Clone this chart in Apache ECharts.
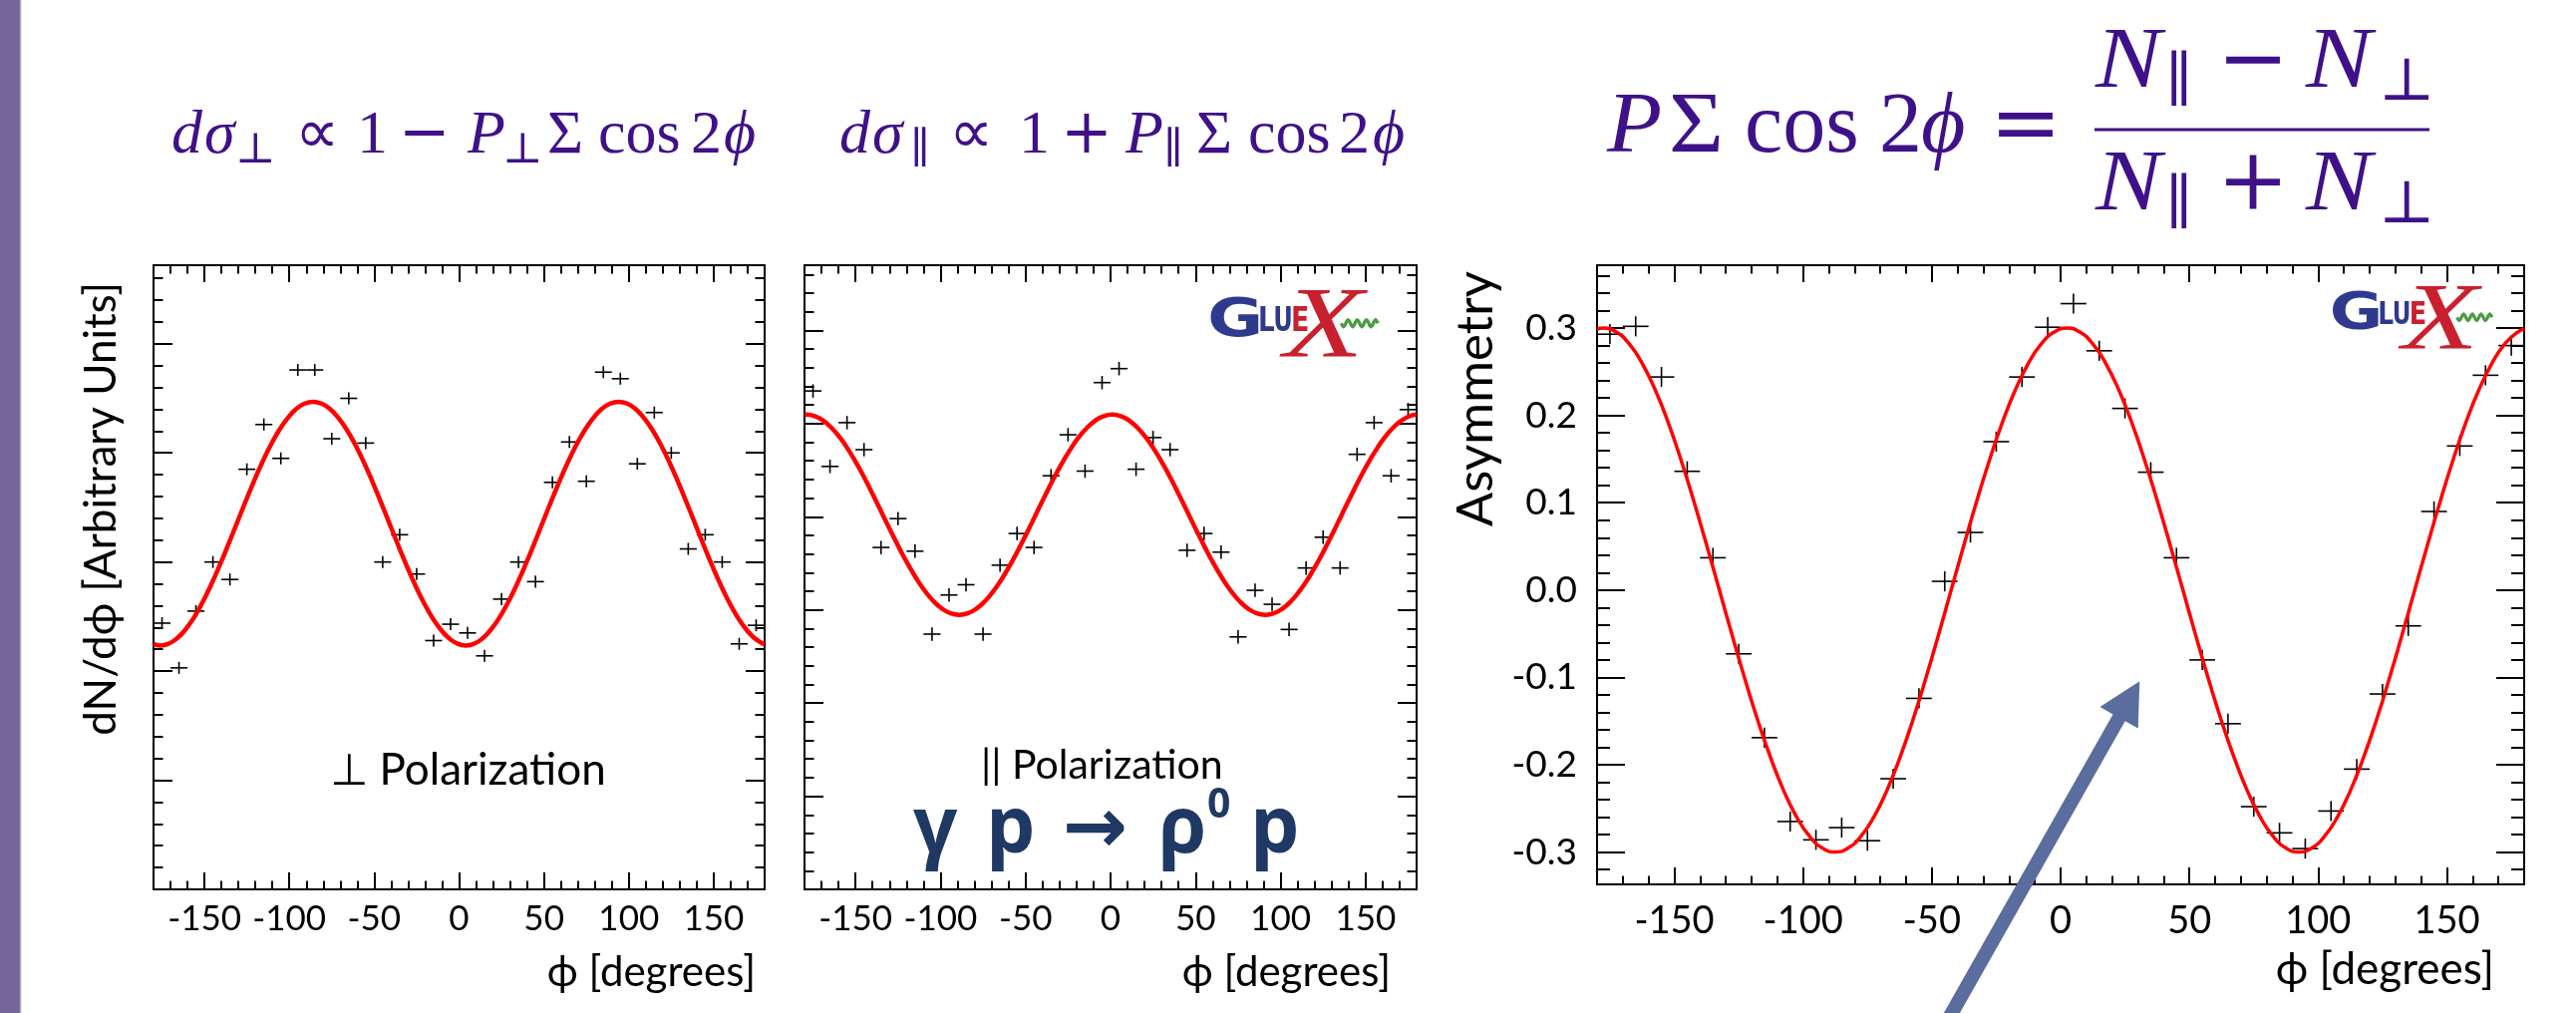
<!DOCTYPE html>
<html>
<head>
<meta charset="utf-8">
<title>ρ⁰ photoproduction beam asymmetry</title>
<script src="https://cdn.jsdelivr.net/npm/echarts@6/dist/echarts.min.js"></script>
<style>
  html, body { margin: 0; padding: 0; background: #ffffff; }
  #chart { width: 2584px; height: 1016px; }
</style>
</head>
<body>
<div id="chart"></div>
<script>
// ---- measured values ----------------------------------------------------
// φ bin centres (degrees) of the measured points
const phiBins = [-175, -165, -155, -145, -135, -125, -115, -105, -95, -85, -75, -65,
                 -55, -45, -35, -25, -15, -5, 5, 15, 25, 35, 45, 55,
                 65, 75, 85, 95, 105, 115, 125, 135, 145, 155, 165, 175];

// ⊥ polarization yield, dN/dφ (arbitrary units)
const perpYield = [2.44, 2.03, 2.55, 3.00, 2.84, 3.85, 4.26, 3.95, 4.76, 4.76, 4.13, 4.50,
                   4.09, 3.00, 3.25, 2.89, 2.28, 2.43, 2.35, 2.14, 2.66, 3.00, 2.82, 3.73,
                   4.10, 3.74, 4.74, 4.68, 3.90, 4.37, 4.00, 3.12, 3.25, 3.00, 2.25, 2.42];
// fitted curve samples for the ⊥ pad (φ in degrees, dN/dφ)
const perpFitPhi = [-180, -176, -171, -166, -161, -156, -151, -146, -141, -136, -131, -126,
                    -121, -116, -111, -106, -101, -96, -91, -86, -81, -76, -71, -66,
                    -61, -56, -51, -46, -41, -36, -31, -26, -21, -16, -11, -6,
                    -1, 4, 9, 14, 19, 24, 29, 34, 39, 44, 49, 54,
                    59, 64, 69, 74, 79, 84, 89, 94, 99, 104, 109, 114,
                    119, 124, 129, 134, 139, 144, 149, 154, 159, 164, 169, 174, 179, 180];
const perpFit = [2.246,
                 2.235, 2.252, 2.302, 2.385, 2.496, 2.634, 2.794, 2.970, 3.158, 3.352, 3.546, 3.734,
                 3.911, 4.070, 4.208, 4.319, 4.402, 4.452, 4.469, 4.452, 4.402, 4.319, 4.208, 4.070,
                 3.911, 3.734, 3.546, 3.352, 3.158, 2.970, 2.794, 2.634, 2.496, 2.385, 2.302, 2.252,
                 2.235, 2.252, 2.302, 2.385, 2.496, 2.634, 2.794, 2.970, 3.158, 3.352, 3.546, 3.734,
                 3.911, 4.070, 4.208, 4.319, 4.402, 4.452, 4.469, 4.452, 4.402, 4.319, 4.208, 4.070,
                 3.911, 3.734, 3.546, 3.352, 3.158, 2.970, 2.794, 2.634, 2.496, 2.385, 2.302, 2.252,
                 2.246];
const perpErr = 0.055;

// ∥ polarization yield, dN/dφ (arbitrary units)
const paraYield = [5.35, 4.54, 5.01, 4.72, 3.67, 3.98, 3.63, 2.74, 3.16, 3.27, 2.74, 3.48,
                   3.82, 3.67, 4.44, 4.88, 4.49, 5.44, 5.59, 4.51, 4.85, 4.72, 3.64, 3.82,
                   3.62, 2.71, 3.21, 3.06, 2.79, 3.45, 3.78, 3.45, 4.67, 5.01, 4.44, 5.15];
const paraFitPhi = [-180, -179, -174, -169, -164, -159, -154, -149, -144, -139, -134, -129, -124,
                    -119, -114, -109, -104, -99, -94, -89, -84, -79, -74, -69, -64,
                    -59, -54, -49, -44, -39, -34, -29, -24, -19, -14, -9, -4,
                    1, 6, 11, 16, 21, 26, 31, 36, 41, 46, 51, 56,
                    61, 66, 71, 76, 81, 86, 91, 96, 101, 106, 111, 116,
                    121, 126, 131, 136, 141, 146, 151, 156, 161, 166, 171, 176, 180];
const paraFit = [5.096,
                 5.097, 5.081, 5.032, 4.953, 4.846, 4.713, 4.560, 4.390, 4.209, 4.022, 3.835, 3.654,
                 3.485, 3.331, 3.199, 3.091, 3.012, 2.963, 2.947, 2.963, 3.012, 3.091, 3.199, 3.331,
                 3.485, 3.654, 3.835, 4.022, 4.209, 4.390, 4.560, 4.713, 4.846, 4.953, 5.032, 5.081,
                 5.097, 5.081, 5.032, 4.953, 4.846, 4.713, 4.560, 4.390, 4.209, 4.022, 3.835, 3.654,
                 3.485, 3.331, 3.199, 3.091, 3.012, 2.963, 2.947, 2.963, 3.012, 3.091, 3.199, 3.331,
                 3.485, 3.654, 3.835, 4.022, 4.209, 4.390, 4.560, 4.713, 4.846, 4.953, 5.032, 5.081,
                 5.096];
const paraErr = 0.072;

// asymmetry (N∥ − N⊥)/(N∥ + N⊥)
const asymValues = [0.293, 0.302, 0.244, 0.136, 0.037, -0.073, -0.169, -0.265, -0.286, -0.272, -0.287, -0.216,
                    -0.124, 0.010, 0.066, 0.170, 0.244, 0.301, 0.328, 0.274, 0.208, 0.135, 0.037, -0.080,
                    -0.153, -0.248, -0.278, -0.296, -0.253, -0.205, -0.119, -0.041, 0.090, 0.165, 0.246, 0.280];
const asymFitPhi = [-180, -177.5, -172.5, -167.5, -162.5, -157.5, -152.5, -147.5, -142.5, -137.5, -132.5, -127.5, -122.5,
                    -117.5, -112.5, -107.5, -102.5, -97.5, -92.5, -87.5, -82.5, -77.5, -72.5, -67.5, -62.5,
                    -57.5, -52.5, -47.5, -42.5, -37.5, -32.5, -27.5, -22.5, -17.5, -12.5, -7.5, -2.5,
                    2.5, 7.5, 12.5, 17.5, 22.5, 27.5, 32.5, 37.5, 42.5, 47.5, 52.5, 57.5,
                    62.5, 67.5, 72.5, 77.5, 82.5, 87.5, 92.5, 97.5, 102.5, 107.5, 112.5, 117.5,
                    122.5, 127.5, 132.5, 137.5, 142.5, 147.5, 152.5, 157.5, 162.5, 167.5, 172.5, 177.5, 180];
const asymFit = [0.2989,
                 0.3000, 0.2954, 0.2819, 0.2598, 0.2298, 0.1928, 0.1500, 0.1026, 0.0521, 0.0000, -0.0521, -0.1026,
                 -0.1500, -0.1928, -0.2298, -0.2598, -0.2819, -0.2954, -0.3000, -0.2954, -0.2819, -0.2598, -0.2298, -0.1928,
                 -0.1500, -0.1026, -0.0521, 0.0000, 0.0521, 0.1026, 0.1500, 0.1928, 0.2298, 0.2598, 0.2819, 0.2954,
                 0.3000, 0.2954, 0.2819, 0.2598, 0.2298, 0.1928, 0.1500, 0.1026, 0.0521, 0.0000, -0.0521, -0.1026,
                 -0.1500, -0.1928, -0.2298, -0.2598, -0.2819, -0.2954, -0.3000, -0.2954, -0.2819, -0.2598, -0.2298, -0.1928,
                 -0.1500, -0.1026, -0.0521, 0.0000, 0.0521, 0.1026, 0.1500, 0.1928, 0.2298, 0.2598, 0.2819, 0.2954,
                 0.2989];
const asymErr = 0.0115;

// tick marks
const phiTicks = [-150, -100, -50, 0, 50, 100, 150];
const perpTicks = [0, 1, 2, 3, 4, 5];
const paraTicks = [0, 1, 2, 3, 4, 5, 6];
const asymTicks = [-0.3, -0.2, -0.1, 0, 0.1, 0.2, 0.3];

// ---- helpers ------------------------------------------------------------
function range(a, b, step) {
  const out = [];
  for (let v = a; v <= b + 1e-9; v += step) out.push(+v.toFixed(4));
  return out;
}
const phiMinor = range(-170, 170, 10);

const BLACK = '#000000';
const lineStyle = { color: BLACK, width: 2 };
const tick = (vals, len) => ({ show: true, inside: true, length: len, customValues: vals, lineStyle });

// four x axes per pad: bottom (labels) + bottom minor + top + top minor
function xAxesFor(g, o) {
  const base = { gridIndex: g, type: 'value', min: -180, max: 180, splitLine: { show: false } };
  return [
    Object.assign({}, base, {
      position: 'bottom',
      axisLine: { show: true, onZero: false, lineStyle },
      axisTick: tick(phiTicks, o.major),
      axisLabel: { show: true, customValues: phiTicks, margin: o.margin, fontFamily: 'Lato',
                   fontSize: o.fs, color: BLACK },
      name: 'ϕ [degrees]', nameLocation: 'end', nameGap: o.nameGap, nameMoveOverlap: false,
      nameTextStyle: { fontFamily: 'Lato', fontSize: o.nameFs, lineHeight: o.nameFs, color: BLACK,
                       align: 'right', verticalAlign: 'top', padding: [o.namePad, 0, 0, 0] }
    }),
    Object.assign({}, base, { position: 'bottom', axisLine: { show: false, onZero: false },
      axisTick: tick(phiMinor, o.minor), axisLabel: { show: false } }),
    Object.assign({}, base, { position: 'top', axisLine: { show: true, onZero: false, lineStyle },
      axisTick: tick(phiTicks, o.major), axisLabel: { show: false } }),
    Object.assign({}, base, { position: 'top', axisLine: { show: false, onZero: false },
      axisTick: tick(phiMinor, o.minor), axisLabel: { show: false } })
  ];
}

// four y axes per pad: left (labels/title) + left minor + right + right minor
function yAxesFor(g, o) {
  const base = { gridIndex: g, type: 'value', min: o.min, max: o.max, splitLine: { show: false } };
  const left = Object.assign({}, base, {
    position: 'left',
    axisLine: { show: true, onZero: false, lineStyle },
    axisTick: tick(o.ticks, o.major),
    axisLabel: o.labels
      ? { show: true, customValues: o.ticks, margin: o.margin, fontFamily: 'Lato', fontSize: o.fs,
          color: BLACK, formatter: v => v.toFixed(1) }
      : { show: false }
  });
  if (o.name) {
    Object.assign(left, {
      name: o.name, nameLocation: 'end', nameRotate: 90, nameGap: o.nameGap, nameMoveOverlap: false,
      nameTextStyle: { fontFamily: 'Lato', fontSize: o.nameFs, lineHeight: o.nameFs, color: BLACK,
                       align: 'right', verticalAlign: 'bottom', padding: [0, 0, o.namePad, 0] }
    });
  }
  return [
    left,
    Object.assign({}, base, { position: 'left', axisLine: { show: false, onZero: false },
      axisTick: tick(o.minorTicks, o.minor), axisLabel: { show: false } }),
    Object.assign({}, base, { position: 'right', axisLine: { show: true, onZero: false, lineStyle },
      axisTick: tick(o.ticks, o.major), axisLabel: { show: false } }),
    Object.assign({}, base, { position: 'right', axisLine: { show: false, onZero: false },
      axisTick: tick(o.minorTicks, o.minor), axisLabel: { show: false } })
  ];
}

// data points drawn as ROOT-style crosses: bin half-width horizontally, error vertically
function crossRenderer(halfBin, err, lw) {
  return function (params, api) {
    const x = api.value(0), y = api.value(1);
    const l = api.coord([x - halfBin, y]), r = api.coord([x + halfBin, y]);
    const t = api.coord([x, y + err]), b = api.coord([x, y - err]);
    const st = { stroke: BLACK, lineWidth: lw };
    return {
      type: 'group',
      children: [
        { type: 'line', shape: { x1: l[0], y1: l[1], x2: r[0], y2: r[1] }, style: st },
        { type: 'line', shape: { x1: t[0], y1: t[1], x2: b[0], y2: b[1] }, style: st }
      ]
    };
  };
}

function pointsSeries(axisIdx, values, err, lw) {
  return {
    type: 'custom', xAxisIndex: axisIdx, yAxisIndex: axisIdx, clip: true, z: 3, silent: true,
    renderItem: crossRenderer(5, err, lw), encode: { x: 0, y: 1 },
    data: phiBins.map((p, i) => [p, values[i]])
  };
}
function fitSeries(axisIdx, phis, values, width) {
  return {
    type: 'line', xAxisIndex: axisIdx, yAxisIndex: axisIdx, smooth: true, symbol: 'none',
    showSymbol: false, silent: true, z: 4, clip: true,
    lineStyle: { color: '#ff0000', width },
    data: phis.map((p, i) => [p, values[i]])
  };
}

// text placement on an alphabetic baseline
const mctx = document.createElement('canvas').getContext('2d');
function midShift(font) {
  mctx.font = font;
  mctx.textBaseline = 'alphabetic';
  const a = mctx.measureText('H').actualBoundingBoxAscent;
  mctx.textBaseline = 'middle';
  const m = mctx.measureText('H').actualBoundingBoxAscent;
  return a - m;
}
function glyph(str, x, baseline, font, fill, sx) {
  return {
    type: 'text', x: x, y: baseline - midShift(font), scaleX: sx || 1, z: 100, silent: true,
    style: { text: str, x: 0, y: 0, font: font, fill: fill, align: 'left', verticalAlign: 'middle' }
  };
}

// ---- formulas -----------------------------------------------------------
const PURPLE = '#3f1189';
const SERIF = '"Liberation Serif", "DejaVu Serif", serif';
const OPS = '"DejaVu Serif", serif';
function mathRow(pieces, size, baseline, subSize, subDrop) {
  return pieces.map(([t, x, kind, sx]) => {
    if (kind === 'sub') return glyph(t, x, baseline + subDrop, `${subSize}px ${OPS}`, PURPLE, sx);
    if (kind === 'op') return glyph(t, x, baseline, `${size}px ${OPS}`, PURPLE, sx);
    if (kind === 'prop') return glyph(t, x, baseline, `${size}px "DejaVu Sans", sans-serif`, PURPLE, sx);
    const style = kind === 'it' ? 'italic ' : '';
    return glyph(t, x, baseline, `${style}${size}px ${SERIF}`, PURPLE, sx);
  });
}

const formulaPerp = [['d', 172, 'it'], ['σ', 205, 'it'], ['⊥', 236, 'sub'], ['∝', 296, 'prop'], ['1', 358, 'rm'],
                     ['−', 400, 'op'], ['P', 469, 'it'], ['⊥', 504, 'sub'], ['Σ', 549, 'rm'], ['cos', 600, 'rm'],
                     ['2', 693, 'rm'], ['ϕ', 726, 'it']];
const formulaPara = [['d', 842, 'it'], ['σ', 875, 'it'], ['∥', 913, 'sub'], ['∝', 952, 'prop'], ['1', 1022, 'rm'],
                     ['+', 1064, 'op'], ['P', 1129, 'it'], ['∥', 1167, 'sub'], ['Σ', 1200, 'rm'], ['cos', 1252, 'rm'],
                     ['2', 1343, 'rm'], ['ϕ', 1377, 'it']];
const formulaAsymLeft = [['P', 1612, 'it', 1.05], ['Σ', 1674, 'rm', 1.1], ['cos', 1750, 'rm'], ['2', 1885, 'rm'],
                         ['ϕ', 1927, 'it'], ['=', 1996, 'op']];
const formulaNum = [['N', 2102, 'it', 1.15], ['∥', 2172, 'sub'], ['−', 2224, 'op'], ['N', 2313, 'it', 1.15], ['⊥', 2386, 'sub']];
const formulaDen = [['N', 2102, 'it', 1.15], ['∥', 2172, 'sub'], ['+', 2224, 'op'], ['N', 2313, 'it', 1.15], ['⊥', 2386, 'sub']];

// ---- GlueX logo -----------------------------------------------------------
function gluexLogo(ox, oy, s) {
  const blue = '#2f3a8e', red = '#c9202f', green = '#4f9a45';
  const sans = px => `bold ${px * s}px "DejaVu Sans"`;
  const els = [
    glyph('G', ox, oy + 37 * s, sans(51), blue, 1.28),
    glyph('L', ox + 48.5 * s, oy + 32 * s, sans(32), blue, 0.78),
    glyph('U', ox + 63 * s, oy + 32 * s, sans(32), blue, 0.72),
    glyph('E', ox + 80 * s, oy + 32 * s, sans(32), red, 0.8),
    glyph('X', ox + 73 * s, oy + 57 * s, `italic ${96 * s}px "Liberation Serif"`, red, 1.3)
  ];
  const pts = [];
  const x0 = ox + 128 * s, w = 35 * s, y0 = oy + 25 * s, amp = 3.2 * s;
  for (let i = 0; i <= 32; i++) {
    pts.push([x0 + w * i / 32, y0 + amp * Math.sin(i / 32 * 4 * 2 * Math.PI)]);
  }
  els.push({ type: 'polyline', z: 100, silent: true, shape: { points: pts },
             style: { stroke: green, lineWidth: 3.2 * s, fill: null } });
  return els;
}

// ---- option ---------------------------------------------------------------
const xAxes = [].concat(
  xAxesFor(0, { major: 17, minor: 8.5, margin: 12, fs: 35, nameGap: -9, nameFs: 42, namePad: 62 }),
  xAxesFor(1, { major: 17, minor: 8.5, margin: 12, fs: 35, nameGap: -26, nameFs: 42, namePad: 62 }),
  xAxesFor(2, { major: 17, minor: 8.5, margin: 18, fs: 38, nameGap: -30, nameFs: 44, namePad: 64 })
);
const yAxes = [].concat(
  yAxesFor(0, { min: 0, max: 5.72, ticks: perpTicks, minorTicks: range(0.2, 5.6, 0.2), major: 19, minor: 9.5,
                labels: false, name: 'dN/dϕ [Arbitrary Units]', nameGap: -17, nameFs: 44, namePad: 30 }),
  yAxesFor(1, { min: 0, max: 6.70, ticks: paraTicks, minorTicks: range(0.2, 6.6, 0.2), major: 19, minor: 9.5,
                labels: false }),
  yAxesFor(2, { min: -0.337, max: 0.372, ticks: asymTicks, minorTicks: range(-0.32, 0.36, 0.02), major: 28, minor: 13,
                labels: true, margin: 20, fs: 37, name: 'Asymmetry', nameGap: -6, nameFs: 51, namePad: 96 })
);

const graphics = [].concat(
  [
    { type: 'rect', z: 100, silent: true, shape: { x: 0, y: 0, width: 20, height: 1016 }, style: { fill: '#76659a' } },
    { type: 'line', z: 100, silent: true, shape: { x1: 20.5, y1: 0, x2: 20.5, y2: 1016 },
      style: { stroke: '#aaa7bd', lineWidth: 1.5 } }
  ],
  mathRow(formulaPerp, 62, 153, 43, 10),
  mathRow(formulaPara, 62, 153, 43, 10),
  mathRow(formulaAsymLeft, 86, 152, 60, 13),
  mathRow(formulaNum, 86, 87, 60, 13),
  mathRow(formulaDen, 86, 210, 60, 13),
  [
    { type: 'line', z: 100, silent: true, shape: { x1: 2101, y1: 130, x2: 2437, y2: 130 },
      style: { stroke: PURPLE, lineWidth: 3 } },
    // zero-width non-joiner keeps "t" and "i" as separate glyphs
    glyph('⊥ Polariza\u200Ction', 331, 787, '44px Lato, "DejaVu Sans"', BLACK),
    glyph('|| Polariza\u200Ction', 984, 781, '41px Lato, "DejaVu Sans"', BLACK)
  ],
  (function () {
    const navy = '#1f3864';
    const big = 'bold 78px "Open Sans", "DejaVu Sans"';
    return [
      glyph('γ', 916, 855, big, navy),
      glyph('p', 989, 855, big, navy),
      glyph('→', 1066, 855, 'bold 78px "DejaVu Sans"', navy),
      glyph('ρ', 1162, 855, big, navy),
      glyph('0', 1211, 820, 'bold 41px "Open Sans", "DejaVu Sans"', navy),
      glyph('p', 1254, 855, big, navy)
    ];
  })(),
  gluexLogo(1211, 298, 1.05),
  gluexLogo(2336.7, 293.3, 1.0),
  [
    { type: 'polygon', z: 110, silent: true,
      shape: { points: [[1948.5, 1018.3], [2119.5, 716.4], [2106.5, 709.0], [2146.3, 683.3],
                        [2144.7, 730.6], [2131.7, 723.3], [1960.7, 1025.2]] },
      style: { fill: '#5b6c9f' } }
  ]
);

const option = {
  animation: false,
  backgroundColor: '#ffffff',
  textStyle: { fontFamily: 'Lato' },
  grid: [
    { left: 154, top: 266, width: 613, height: 626, outerBoundsMode: 'none' },
    { left: 807, top: 266, width: 614, height: 626, outerBoundsMode: 'none' },
    { left: 1602, top: 266, width: 930, height: 621, outerBoundsMode: 'none' }
  ],
  xAxis: xAxes,
  yAxis: yAxes,
  series: [
    pointsSeries(0, perpYield, perpErr, 1.6),
    fitSeries(0, perpFitPhi, perpFit, 4.5),
    pointsSeries(4, paraYield, paraErr, 1.6),
    fitSeries(4, paraFitPhi, paraFit, 4.5),
    pointsSeries(8, asymValues, asymErr, 1.6),
    fitSeries(8, asymFitPhi, asymFit, 3.5)
  ],
  graphic: { elements: graphics }
};

const chart = echarts.init(document.getElementById('chart'), null, { renderer: 'canvas', width: 2584, height: 1016 });
chart.setOption(option);
</script>
</body>
</html>
